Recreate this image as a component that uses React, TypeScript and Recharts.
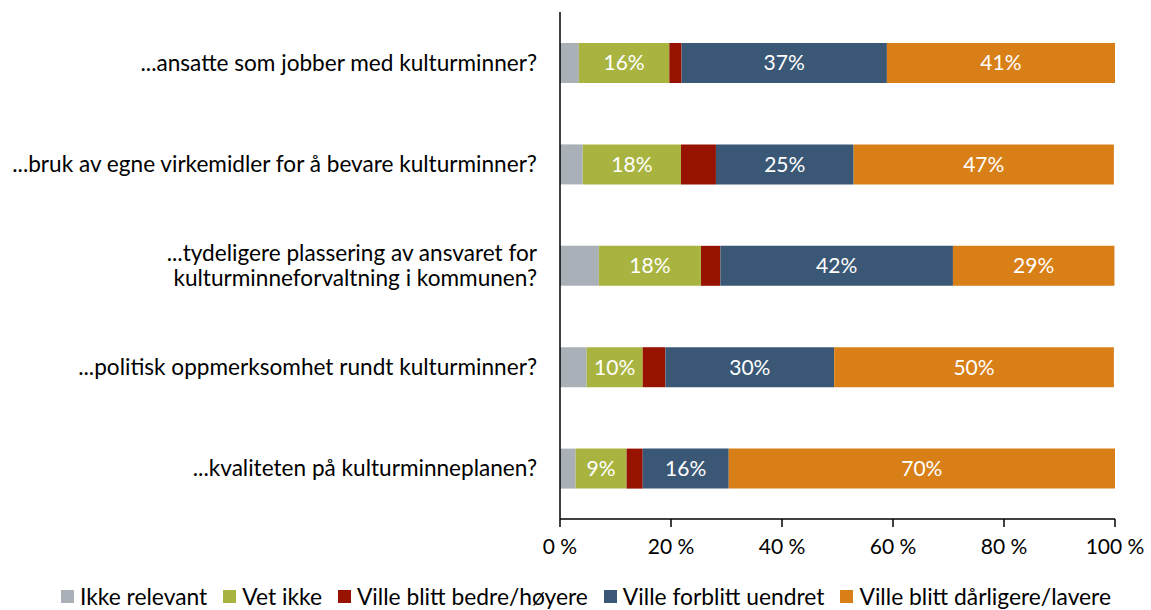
import React from 'react';
import { BarChart, Bar, XAxis, YAxis, Legend, LabelList } from 'recharts';

const categories = [
  '...ansatte som jobber med kulturminner?',
  '...bruk av egne virkemidler for å bevare kulturminner?',
  '...tydeligere plassering av ansvaret for\nkulturminneforvaltning i kommunen?',
  '...politisk oppmerksomhet rundt kulturminner?',
  '...kvaliteten på kulturminneplanen?',
];
const ikkeRelevant = [3.4, 4.1, 7.0, 4.8, 2.8];
const vetIkke = [16.3, 17.7, 18.4, 10.1, 9.2];
const bedre = [2.2, 6.3, 3.5, 4.1, 2.9];
const uendret = [37.0, 24.8, 41.9, 30.4, 15.5];
const darligere = [41.1, 46.9, 29.1, 50.4, 69.6];
const xTicks = [0, 20, 40, 60, 80, 100];

const seriesNames = ['Ikke relevant', 'Vet ikke', 'Ville blitt bedre/høyere', 'Ville forblitt uendret', 'Ville blitt dårligere/lavere'];
const seriesColors = ['#A9B0B7', '#A8B43F', '#971200', '#3A5876', '#D87F18'];

const data = categories.map((c, i) => ({
  name: c,
  a: ikkeRelevant[i],
  b: vetIkke[i],
  c: bedre[i],
  d: uendret[i],
  e: darligere[i],
}));

const FONT = 'Lato, "Open Sans", sans-serif';

const CatTick = (props: any) => {
  const { x, y, payload } = props;
  const lines = String(payload.value).split('\n');
  const lh = 25;
  const start = -((lines.length - 1) * lh) / 2;
  return (
    <g>
      {lines.map((l, i) => (
        <text key={i} x={x} y={y + start + i * lh} dy="0.35em" textAnchor="end" fontSize={22.6} fill="#000" fontFamily={FONT}>
          {l}
        </text>
      ))}
    </g>
  );
};

const LegendContent = () => (
  <div style={{ display: 'flex', justifyContent: 'center', alignItems: 'center', fontFamily: FONT, fontSize: 22.8, lineHeight: '24px', color: '#000', whiteSpace: 'nowrap', paddingLeft: 21 }}>
    {seriesNames.map((n, i) => (
      <div key={n} style={{ display: 'flex', alignItems: 'center', marginRight: i < seriesNames.length - 1 ? 16 : 0 }}>
        <div style={{ width: 13, height: 13, background: seriesColors[i], marginRight: 6 }} />
        <span>{n}</span>
      </div>
    ))}
  </div>
);

const pct = (v: any) => `${Math.round(Number(v))}%`;

export default function App() {
  const keys = ['a', 'b', 'c', 'd', 'e'];
  const labelled = [false, true, false, true, true];
  return (
    <div style={{ position: 'absolute', left: 0, top: 0, width: 1151, height: 610, background: '#fff' }}>
      <BarChart
        width={1151}
        height={610}
        data={data}
        layout="vertical"
        margin={{ top: 12, right: 36, bottom: 37, left: 0 }}
      >
        <XAxis
          type="number"
          domain={[0, 100]}
          ticks={xTicks}
          allowDataOverflow
          tickFormatter={(v: number) => `${v} %`}
          axisLine={{ stroke: '#000', strokeWidth: 1.5 }}
          tickLine={{ stroke: '#000', strokeWidth: 1.5 }}
          tickSize={8}
          tickMargin={12}
          tick={{ fontSize: 21, fill: '#000', fontFamily: FONT }}
        />
        <YAxis
          type="category"
          dataKey="name"
          width={560}
          axisLine={{ stroke: '#000', strokeWidth: 1.5 }}
          tickLine={false}
          tickSize={0}
          tickMargin={23}
          tick={<CatTick />}
          interval={0}
        />
        <Legend
          content={<LegendContent />}
          wrapperStyle={{ top: 584, bottom: 'auto', left: 0, width: 1151, height: 24 }}
        />
        {keys.map((k, i) => (
          <Bar key={k} dataKey={k} name={seriesNames[i]} stackId="s" fill={seriesColors[i]} barSize={40} isAnimationActive={false}>
            {labelled[i] ? (
              <LabelList dataKey={k} position="center" formatter={pct} fill="#fff" fontSize={21} fontFamily={FONT} />
            ) : null}
          </Bar>
        ))}
      </BarChart>
    </div>
  );
}
